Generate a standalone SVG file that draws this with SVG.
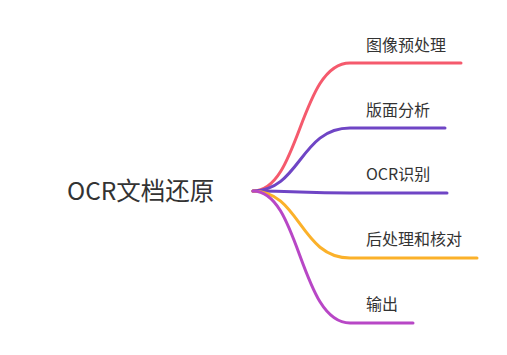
<svg xmlns="http://www.w3.org/2000/svg" width="507" height="355" viewBox="0 0 507 355">
<style>
.t{font-family:"Noto Sans CJK SC","Noto Sans",sans-serif;fill:#333;}
.l{font-size:16px;}
.c{fill:none;stroke-width:3;stroke-linecap:round;}
</style>
<rect width="507" height="355" fill="#fff"/>
<g id="connectors">
<path class="c" stroke="#f55a6d" d="M253,191 C300,191 300,63 350,63 L461,63"/>
<path class="c" stroke="#6f45c5" d="M253,191 C300,191 300,128 350,128 L445,128"/>
<path class="c" stroke="#6f45c5" d="M253,191 C300,191 300,193 350,193 L447,193"/>
<path class="c" stroke="#fbb12a" d="M253,191 C300,191 300,258 350,258 L477,258"/>
<path class="c" stroke="#b847c6" d="M253,191 C300,191 300,323 350,323 L413,323"/>
</g>
<g id="root"><text class="t" x="67" y="200" font-size="24.5">OCR文档还原</text></g>
<g id="n1"><text class="t l" x="366" y="51">图像预处理</text></g>
<g id="n2"><text class="t l" x="366" y="116">版面分析</text></g>
<g id="n3"><text class="t l" x="366" y="180">OCR识别</text></g>
<g id="n4"><text class="t l" x="366" y="245">后处理和核对</text></g>
<g id="n5"><text class="t l" x="366" y="310">输出</text></g>
</svg>
